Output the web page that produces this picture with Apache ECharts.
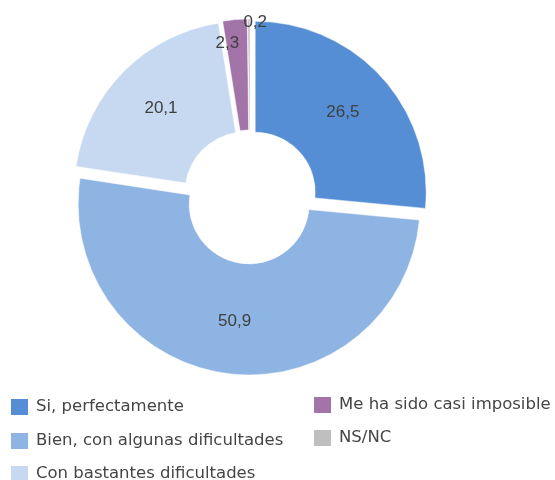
<!DOCTYPE html>
<html>
<head>
<meta charset="utf-8">
<script src="https://cdn.jsdelivr.net/npm/echarts@6/dist/echarts.min.js"></script>
<style>
html,body{margin:0;padding:0;background:#ffffff;}
#chart{width:555px;height:480px;}
</style>
</head>
<body>
<div id="chart"></div>
<script>
// Data
const categories = [
  'Si, perfectamente',
  'Bien, con algunas dificultades',
  'Con bastantes dificultades',
  'Me ha sido casi imposible',
  'NS/NC'
];
const values = [26.5, 50.9, 20.1, 2.3, 0.2];

// Styles / layout (not data)
const colors = ['#558ED5', '#8EB4E3', '#C6D9F1', '#A274A8', '#BFBFBF'];
const labelShift = { 3: { dx: -12, dy: -29 }, 4: { dx: 6, dy: -49 } };
// legend slot for each category: [left, top]
const legendSlots = [[9, 397], [9, 431], [9, 464], [312, 395], [312, 428]];

const chart = echarts.init(document.getElementById('chart'), null, { renderer: 'canvas' });

const legends = categories.map(function (name, i) {
  return {
    orient: 'horizontal',
    icon: 'rect',
    itemWidth: 19,
    itemHeight: 18,
    padding: 0,
    selectedMode: false,
    left: legendSlots[i][0],
    top: legendSlots[i][1],
    data: [name],
    textStyle: { fontFamily: 'DejaVu Sans', fontSize: 16.5, color: '#454545', padding: [0, 0, 0, 2] }
  };
});

chart.setOption({
  animation: false,
  color: colors,
  legend: legends,
  series: [{
    type: 'pie',
    center: [250, 197],
    radius: [60, 171],
    startAngle: 90,
    clockwise: true,
    selectedMode: 'multiple',
    selectedOffset: 7,
    avoidLabelOverlap: false,
    emphasis: { disabled: true },
    itemStyle: { borderColor: '#ffffff', borderWidth: 0.5 },
    label: {
      show: true,
      position: 'inside',
      fontFamily: 'Liberation Sans',
      fontSize: 17,
      color: '#404040',
      formatter: function (p) { return p.value.toFixed(1).replace('.', ','); }
    },
    labelLine: { show: false },
    labelLayout: function (params) {
      const s = labelShift[params.dataIndex];
      return s ? { dx: s.dx, dy: s.dy } : {};
    },
    data: categories.map(function (name, i) {
      return { name: name, value: values[i], selected: true };
    })
  }]
});
</script>
</body>
</html>
